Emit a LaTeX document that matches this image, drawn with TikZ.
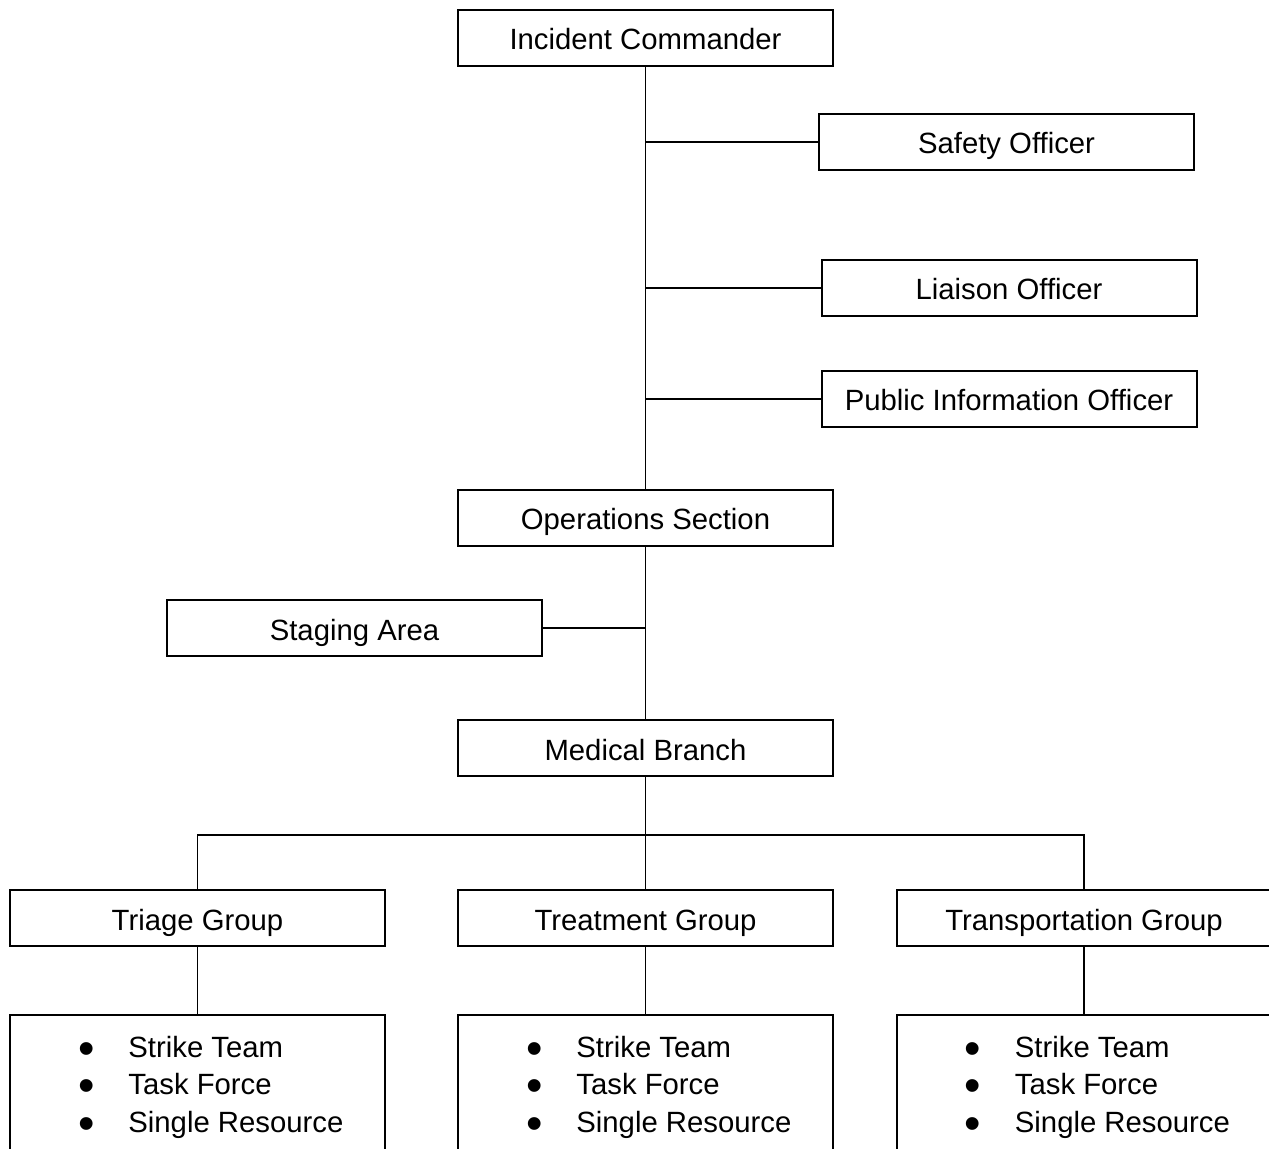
\documentclass[tikz,border=0pt]{standalone}
\usepackage{fontspec}
\setmainfont{Liberation Sans}
\usetikzlibrary{positioning, calc}
\tikzset{unit/.style = {draw, line width=1pt, minimum width=187.5pt, minimum height=28pt, inner sep=0pt, outer sep=0pt, text height=12pt, text depth=0pt},
	link/.style = {line width=0.65pt},
	items/.style = {align=left, inner sep=0pt, anchor=west}}
\newcommand{\bul}{\makebox[25pt][l]{\raisebox{-3.5pt}[0pt][0pt]{\scalebox{1.6}{\textbullet}}}}

\begin{document}
\begin{tikzpicture}[x=0.5pt, y=-0.5pt, font=\fontsize{14.65}{18.75}\selectfont]
	\useasboundingbox (0,0) rectangle (1269,1149);
	\clip (0,0) rectangle (1269,1149);
	
	\node[unit] (ic) at (645.5,38) {Incident Commander};
	\node[unit] (safety) at (1006.5,142) {Safety Officer};
	\node[unit] (liaison) at (1009,288) {Liaison Officer};
	\node[unit] (pio) at (1009,399) {Public Information Officer};
	\node[unit] (ops) at (645.5,518) {Operations Section};
	\node[unit] (staging) at (354.5,628) {Staging Area};
	\node[unit] (medical) at (645.5,748) {Medical Branch};
	
	\node[unit] (triage) at (197.5,918) {Triage Group};
	\node[unit] (treatment) at (645.5,918) {Treatment Group};
	\node[unit] (transport) at (1084,918) {Transportation Group};
	
	\node[unit, minimum height=70pt] (triagebox) at (197.5,1085) {};
	\node[unit, minimum height=70pt] (treatmentbox) at (645.5,1085) {};
	\node[unit, minimum height=70pt] (transportbox) at (1084,1085) {};
	
	\node[items] (triagetext) at ([xshift=34pt, yshift=-1pt]triagebox.west) {\bul Strike Team\\ \bul Task Force\\ \bul Single Resource};
	\node[items] (treatmenttext) at ([xshift=34pt, yshift=-1pt]treatmentbox.west) {\bul Strike Team\\ \bul Task Force\\ \bul Single Resource};
	\node[items] (transporttext) at ([xshift=34pt, yshift=-1pt]transportbox.west) {\bul Strike Team\\ \bul Task Force\\ \bul Single Resource};
	
	\draw[link]	(ic.south) -- (ops.north);
	\draw[link]	(safety.west) -- (safety.west -| ic.south);
	\draw[link]	(liaison.west) -- (liaison.west -| ic.south);
	\draw[link]	(pio.west) -- (pio.west -| ic.south);
	\draw[link]	(ops.south) -- (medical.north);
	\draw[link]	(staging.east) -- (staging.east -| ops.south);
	
	\coordinate (bus) at (645.5,835);
	\draw[link]	(medical.south) -- (treatment.north);
	\draw[link]	(triage.north) |- (bus) -| (transport.north);
	
	\draw[link]	(triage.south) -- (triagebox.north);
	\draw[link]	(treatment.south) -- (treatmentbox.north);
	\draw[link]	(transport.south) -- (transportbox.north);
\end{tikzpicture}
\end{document}
